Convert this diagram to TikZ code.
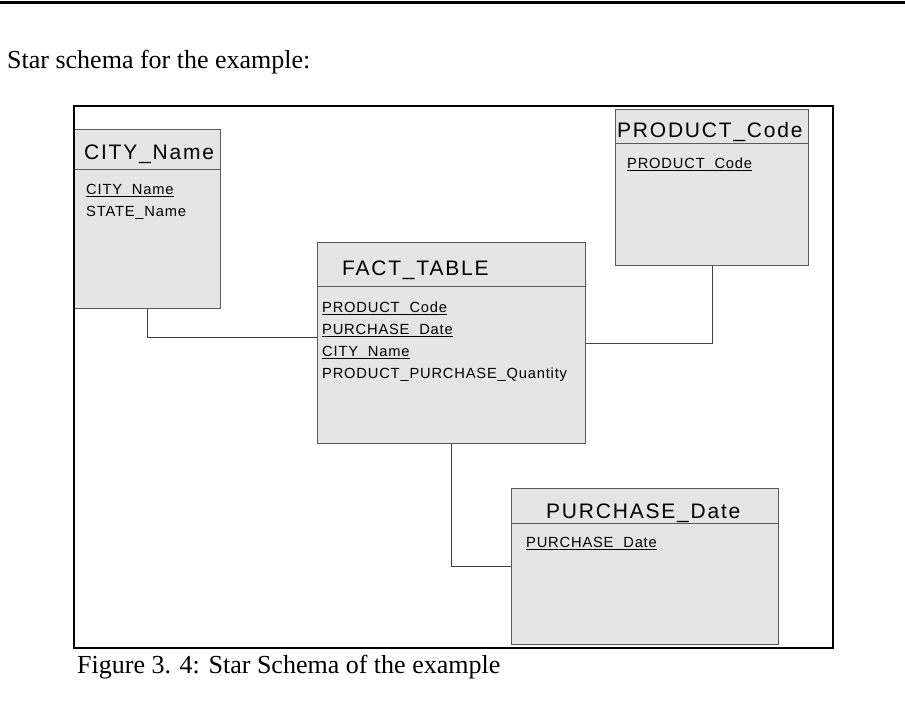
\documentclass[tikz,border=0pt]{standalone}
\usepackage{fontspec}
\setmainfont{Liberation Serif}
\newfontfamily\tablafont[LetterSpace=8.5]{Liberation Sans}
\newfontfamily\campofont[LetterSpace=5.5]{Liberation Sans}
\newcommand{\clave}[1]{\setbox0\hbox{#1}\rlap{\rule[-3pt]{\wd0}{1.2pt}}\box0}

\begin{document}
\begin{tikzpicture}[x=1pt, y=-1pt,
  tabla/.style={draw=black!65, fill=black!10, line width=1pt, rectangle, inner sep=0, anchor=north west},
  titulo/.style={font=\tablafont\fontsize{21}{21}\selectfont, anchor=base west, inner sep=0},
  campo/.style={font=\campofont\fontsize{14.7}{14.7}\selectfont, anchor=base west, inner sep=0},
  enlace/.style={draw=black!75, line width=0.9pt}]
\useasboundingbox (0,0) rectangle (905,716);

% Texto
\draw[line width=3pt] (0,2.5) -- (905,2.5);
\node[anchor=base west, inner sep=0, font=\fontsize{26}{26}\selectfont] (texto) at (7,68) {Star schema for the example:};
\node[anchor=base west, inner sep=0, font=\fontsize{26}{26}\selectfont] (pie) at (77,673) {Figure 3. 4: Star Schema of the example};

% Tabla CITY_Name
\node[tabla, minimum width=146pt, minimum height=179pt] (city) at (74,129) {};
\draw[draw=black!65] (city.west |- 0,169) -- (city.east |- 0,169);
\node[titulo] (city-t) at (84,159.5) {CITY\_Name};
\foreach \c [count=\i] in {\clave{CITY\_Name}, STATE\_Name}
  \node[campo] (city-\i) at (86,{194+22*(\i-1)}) {\c};

% Tabla FACT_TABLE
\node[tabla, minimum width=268pt, minimum height=201pt] (fact) at (317,242) {};
\draw[draw=black!65] (fact.west |- 0,286) -- (fact.east |- 0,286);
\node[titulo] (fact-t) at (342,275.5) {FACT\_TABLE};
\foreach \c [count=\i] in {\clave{PRODUCT\_Code}, \clave{PURCHASE\_Date}, \clave{CITY\_Name}, PRODUCT\_PURCHASE\_Quantity}
  \node[campo] (fact-\i) at (322,{312+22*(\i-1)}) {\c};

% Tabla PRODUCT_Code
\node[tabla, minimum width=193pt, minimum height=156pt] (prod) at (615,109) {};
\draw[draw=black!65] (prod.west |- 0,143) -- (prod.east |- 0,143);
\node[titulo] (prod-t) at (617,137.5) {PRODUCT\_Code};
\node[campo] (prod-1) at (627,168) {\clave{PRODUCT\_Code}};

% Tabla PURCHASE_Date
\node[tabla, minimum width=267pt, minimum height=156pt] (purch) at (511,488) {};
\draw[draw=black!65] (purch.west |- 0,523) -- (purch.east |- 0,523);
\node[titulo] (purch-t) at (546,518) {PURCHASE\_Date};
\node[campo] (purch-1) at (526,547) {\clave{PURCHASE\_Date}};

% Enlaces
\draw[enlace] (city.south) |- ([yshift=5.5pt]fact.west);
\draw[enlace] (prod.south) |- (fact.east);
\draw[enlace] (fact.south) |- (purch.west);

% Marco
\draw[line width=2.6pt] (74,106) rectangle (833,648);
\end{tikzpicture}
\end{document}
